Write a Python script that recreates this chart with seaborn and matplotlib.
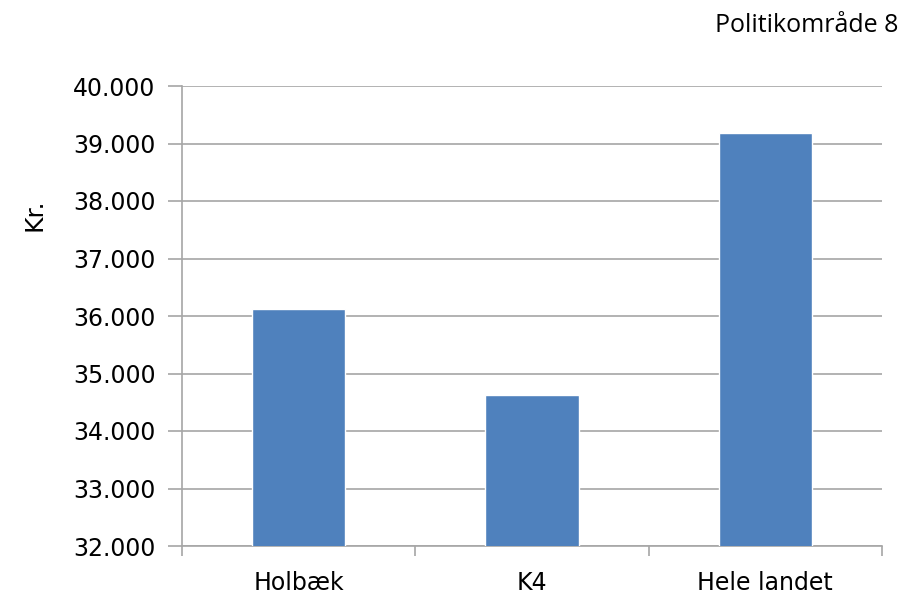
import numpy as np
import pandas as pd
import matplotlib
matplotlib.use("Agg")
import matplotlib.pyplot as plt
import seaborn as sns

# data
categories = ["Holbæk", "K4", "Hele landet"]
values = [36115, 34630, 39185]
yticks = [32000, 33000, 34000, 35000, 36000, 37000, 38000, 39000, 40000]

df = pd.DataFrame({"område": categories, "kr": values})

sns.set_style("white")
plt.rcParams["font.family"] = ["DejaVu Sans"]
plt.rcParams["font.sans-serif"] = ["DejaVu Sans"]
plt.rcParams["text.color"] = "black"

fig = plt.figure(figsize=(9.13, 6.01), dpi=100)
ax = fig.add_axes([182 / 913, 1 - 546 / 601, 700 / 913, 460 / 601])

sns.barplot(data=df, x="område", y="kr", color="#4F81BD", saturation=1,
            width=0.4, ax=ax, zorder=3)

grid = "#A6A6A6"
ax.set_ylim(32000, 40000)
ax.set_xlim(-0.5, 2.5)
ax.set_yticks(yticks)
ax.set_yticklabels([f"{v:,}".replace(",", ".") for v in yticks],
                   fontsize=17, fontfamily="DejaVu Sans", color="black")
ax.yaxis.grid(True, color=grid, linewidth=1.2, zorder=0)
ax.tick_params(axis="y", length=10, width=1.2, color=grid, pad=9, left=True)

# category labels without ticks, boundary ticks as minor ticks
ax.set_xticks(range(len(categories)))
ax.set_xticklabels(categories, fontsize=17, fontfamily="DejaVu Sans",
                   color="black")
ax.set_xticks([-0.5, 0.5, 1.5, 2.5], minor=True)
ax.tick_params(axis="x", which="major", length=0, pad=18)
ax.tick_params(axis="x", which="minor", length=7, width=1.2, color=grid,
               bottom=True)

for side in ["top", "right"]:
    ax.spines[side].set_visible(False)
for side in ["left", "bottom"]:
    ax.spines[side].set_color(grid)
    ax.spines[side].set_linewidth(1.2)

ax.set_xlabel("")
ax.set_ylabel("")
fig.text(34 / 913, 1 - 215 / 601, "Kr.", rotation=90, fontsize=18,
         family="DejaVu Sans", ha="center", va="center", color="black")
fig.text(898 / 913, 1 - 25 / 601, "Politikområde 8", fontsize=18,
         family=["Open Sans", "DejaVu Sans"], ha="right", va="center",
         color="black")

fig.savefig("out.png", dpi=100)
